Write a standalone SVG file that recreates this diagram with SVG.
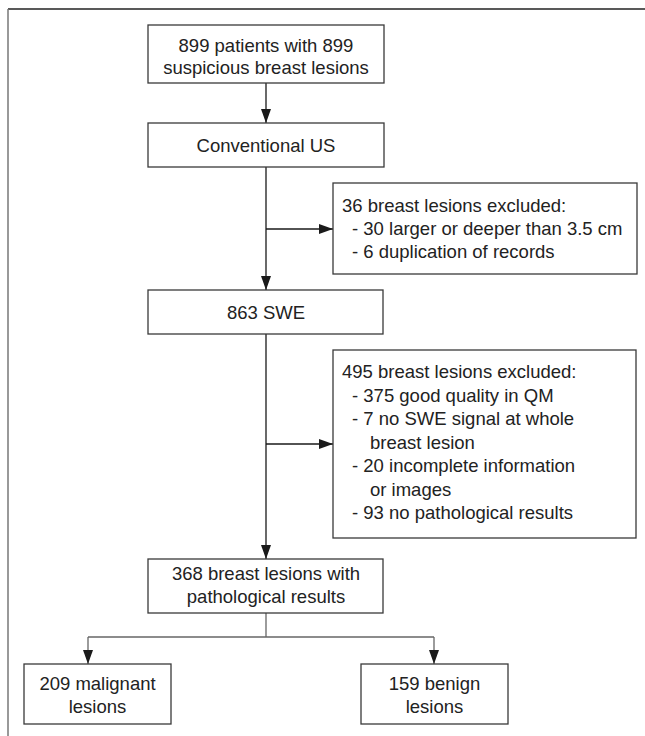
<svg xmlns="http://www.w3.org/2000/svg" width="645" height="736" viewBox="0 0 645 736">
<style>
  .box { fill: #ffffff; stroke: #3a3a3a; stroke-width: 1.3; }
  .t { font-family: "Liberation Sans", Arial, sans-serif; font-size: 18.5px; fill: #222222; }
  .c { text-anchor: middle; }
  .ln { fill: none; stroke: #1a1a1a; stroke-width: 1.3; }
  .ln2 { fill: none; stroke: #666666; stroke-width: 1.3; }
</style>
<defs>
  <marker id="ah" markerUnits="userSpaceOnUse" markerWidth="14" markerHeight="10" refX="14" refY="5" orient="auto">
    <path d="M0,0 L14,5 L0,10 Z" fill="#1a1a1a"/>
  </marker>
</defs>
<rect width="645" height="736" fill="#ffffff"/>
<g id="frame">
  <line x1="8" y1="9" x2="645" y2="9" stroke="#222222" stroke-width="1.5"/>
  <line x1="8" y1="9" x2="8" y2="736" stroke="#777777" stroke-width="1.5"/>
</g>
<g id="connectors">
  <line class="ln" x1="266" y1="83" x2="266" y2="123" marker-end="url(#ah)"/>
  <line class="ln" x1="266" y1="167" x2="266" y2="290" marker-end="url(#ah)"/>
  <line class="ln" x1="266" y1="229" x2="333" y2="229" marker-end="url(#ah)"/>
  <line class="ln" x1="266" y1="334" x2="266" y2="559" marker-end="url(#ah)"/>
  <line class="ln" x1="266" y1="444" x2="333" y2="444" marker-end="url(#ah)"/>
  <line class="ln2" x1="266" y1="613" x2="266" y2="637"/>
  <line class="ln2" x1="88" y1="637" x2="434" y2="637"/>
  <line class="ln2" x1="88" y1="637" x2="88" y2="664" marker-end="url(#ah)"/>
  <line class="ln2" x1="434" y1="637" x2="434" y2="664" marker-end="url(#ah)"/>
</g>
<g id="n1">
  <rect class="box" x="148" y="25" width="236" height="58"/>
  <text class="t c" x="266" y="52">899 patients with 899</text>
  <text class="t c" x="266" y="74">suspicious breast lesions</text>
</g>
<g id="n2">
  <rect class="box" x="148" y="123" width="236" height="44"/>
  <text class="t c" x="266" y="151.5">Conventional US</text>
</g>
<g id="ex1">
  <rect class="box" x="333" y="183" width="304" height="91"/>
  <text class="t" x="342" y="212">36 breast lesions excluded:</text>
  <text class="t" x="352" y="235">- 30 larger or deeper than 3.5 cm</text>
  <text class="t" x="352" y="258">- 6 duplication of records</text>
</g>
<g id="n3">
  <rect class="box" x="148" y="290" width="235" height="44"/>
  <text class="t c" x="266" y="318.5">863 SWE</text>
</g>
<g id="ex2">
  <rect class="box" x="333" y="350" width="303" height="188"/>
  <text class="t" x="342" y="378">495 breast lesions excluded:</text>
  <text class="t" x="352" y="401.5">- 375 good quality in QM</text>
  <text class="t" x="352" y="425">- 7 no SWE signal at whole</text>
  <text class="t" x="370" y="448.5">breast lesion</text>
  <text class="t" x="352" y="472">- 20 incomplete information</text>
  <text class="t" x="370" y="495.5">or images</text>
  <text class="t" x="352" y="519">- 93 no pathological results</text>
</g>
<g id="n4">
  <rect class="box" x="148" y="559" width="235" height="54"/>
  <text class="t c" x="266" y="580">368 breast lesions with</text>
  <text class="t c" x="266" y="603">pathological results</text>
</g>
<g id="n5">
  <rect class="box" x="24" y="664" width="147" height="60"/>
  <text class="t c" x="97.5" y="689.5">209 malignant</text>
  <text class="t c" x="97.5" y="713">lesions</text>
</g>
<g id="n6">
  <rect class="box" x="361" y="664" width="147" height="60"/>
  <text class="t c" x="434.5" y="689.5">159 benign</text>
  <text class="t c" x="434.5" y="713">lesions</text>
</g>
</svg>
